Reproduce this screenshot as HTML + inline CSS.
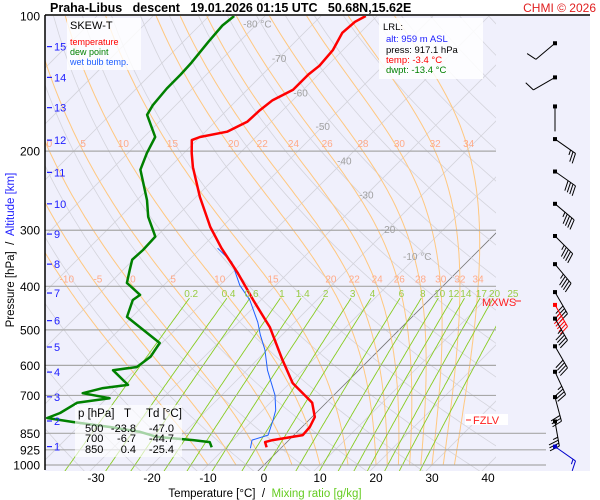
<!DOCTYPE html>
<html><head><meta charset="utf-8"><style>
html,body{margin:0;padding:0;background:#fff;}
svg{display:block;font-family:"Liberation Sans",sans-serif;}
</style></head><body>
<svg id="chart" width="600" height="500" viewBox="0 0 600 500">
<defs>
<clipPath id="plotclip"><rect x="45" y="16" width="451" height="455"/></clipPath>
<clipPath id="lowclip"><rect x="45" y="16" width="505" height="455"/></clipPath>
</defs>
<rect x="45" y="16" width="545" height="455" fill="#f0f0fc"/>
<g id="bg" clip-path="url(#plotclip)"></g>
<g id="plines"></g>
<g id="series" clip-path="url(#lowclip)"></g>
<g id="labels"></g>
<g id="winds"></g>
<line x1="45" y1="15" x2="590" y2="15" stroke="#000" stroke-width="1.5"/>
<line x1="45" y1="15" x2="45" y2="470" stroke="#000" stroke-width="1.5"/>
<text x="50" y="12" font-size="12.5" font-weight="bold" xml:space="preserve">Praha-Libus   descent   19.01.2026 01:15 UTC   50.68N,15.62E</text>
<text x="596" y="12" font-size="12" fill="#e02020" text-anchor="end">CHMI © 2026</text>
<g>
<rect x="67" y="18" width="74" height="52" fill="#fff" opacity="0.8"/>
<text x="70" y="29" font-size="11">SKEW-T</text>
<text x="70" y="45" font-size="9" fill="#ff0000">temperature</text>
<text x="70" y="55" font-size="9" fill="#008000">dew point</text>
<text x="70" y="65" font-size="9" fill="#2060ff">wet bulb temp.</text>
</g>
<g>
<rect x="379" y="18" width="104" height="61" fill="#fff" opacity="0.85"/>
<text x="383" y="30" font-size="9.5">LRL:</text>
<text x="386" y="42" font-size="9.5" fill="#2020ff">alt: 959 m ASL</text>
<text x="386" y="53" font-size="9.5">press: 917.1 hPa</text>
<text x="386" y="63" font-size="9.5" fill="#ff0000">temp: -3.4 °C</text>
<text x="386" y="73" font-size="9.5" fill="#008000">dwpt: -13.4 °C</text>
</g>
<g id="tablegrp">
<rect x="75" y="405" width="107" height="52" fill="#fff" opacity="0.65"/>
<text x="78" y="417" font-size="11.5">p [hPa]</text>
<text x="124" y="417" font-size="11.5">T</text>
<text x="146" y="417" font-size="11.5">Td [°C]</text>
<g font-size="11">
<text x="85" y="432">500</text><text x="136" y="432" text-anchor="end">-23.8</text><text x="174" y="432" text-anchor="end">-47.0</text>
<text x="85" y="442">700</text><text x="136" y="442" text-anchor="end">-6.7</text><text x="174" y="442" text-anchor="end">-44.7</text>
<text x="85" y="453">850</text><text x="136" y="453" text-anchor="end">0.4</text><text x="174" y="453" text-anchor="end">-25.4</text>
</g>
</g>
<g>
<text x="482" y="306" font-size="11" fill="#ff2020">MXWS</text>
<line x1="515" y1="301" x2="521" y2="301" stroke="#ff2020"/>
</g>
<g>
<rect x="465" y="414" width="43" height="11" fill="#fff"/>
<line x1="466" y1="420" x2="471" y2="420" stroke="#ff2020"/>
<text x="473" y="424" font-size="11" fill="#ff2020">FZLV</text>
</g>
<text x="265" y="497" font-size="11.5" text-anchor="middle" xml:space="preserve">Temperature [°C]  /  <tspan fill="#66cc22">Mixing ratio [g/kg]</tspan></text>
<text transform="translate(14,250) rotate(-90)" font-size="11.5" text-anchor="middle" xml:space="preserve">Pressure [hPa]  /  <tspan fill="#2020ff">Altitude [km]</tspan></text>
</svg>
<script>
// ---- data ----
const pressureTicks = [100,200,300,400,500,600,700,850,925,1000];
const tempTicks = [-30,-20,-10,0,10,20,30,40];
const altKm = [1,2,3,4,5,6,7,8,9,10,11,12,13,14,15];
const altPres = [910,798,705,621,546,477,414,357,306,262,223,189,160,137,117];
const isoLabelT = [-80,-70,-60,-50,-40,-30,-20,-10];
const isoLabelP = [104,124,148,176,210,250,298,342];
const thetaW = [-10,-5,0,5,10,15,20,22,24,26,28,30,32,34];
const thetaWLabels200 = [0,5,10,15,20,22,24,26,28,30,32,34];
const thetaWLabels400 = [-10,-5,0,5,10,15,20,22,24,26,28,30,32,34];
const mixRatios = [0.2,0.4,0.6,1,1.4,2,3,4,6,8,10,12,14,17,20,25];
const tempP = [100,103,109,119,129,135,146,154,162,172,181,186,189,202,217,253,295,329,374,429,493,583,657,727,782,823,858,880,889,913];
const tempT = [-62.0,-62.9,-63.2,-61.8,-61.4,-61.8,-61.8,-63.6,-64.1,-64.3,-66.1,-70.0,-70.9,-68.6,-65.9,-59.3,-52.1,-46.3,-38.9,-31.4,-23.6,-15.5,-9.5,-2.5,0.5,1.4,1.6,-2.9,-3.9,-2.7];
const dewP = [100,105,114,127,135,145,158,166,186,202,220,257,280,310,332,349,368,393,418,429,468,493,535,574,605,615,663,674,692,710,727,766,786,802,823,844,866,880,889,913];
const dewT = [-85.5,-85.9,-85.5,-84.8,-84.6,-84.6,-84.1,-83.4,-78.0,-76.6,-74.8,-68.2,-65.0,-60.2,-60.0,-60.2,-58.8,-57.0,-52.5,-52.9,-50.9,-46.8,-40.4,-39.6,-40.2,-43.9,-38.6,-42.5,-45.2,-39.5,-44.5,-45.7,-47.1,-41.8,-34.3,-28.0,-24.1,-17.1,-13.8,-12.5];
const wbP = [329,353,398,429,481,513,554,615,699,755,794,858,880,918];
const wbT = [-47.0,-42.0,-36.4,-32.0,-26.6,-23.9,-20.4,-16.3,-10.5,-7.7,-6.4,-4.6,-6.6,-5.4];
const windP = [115,137,159,188,222,262,309,357,412,440,472,544,620,706,800,910];
const windDir = [230,240,180,125,125,130,135,140,150,150,150,150,155,165,170,125];
const windSpd = [10,10,3,25,40,45,45,45,40,55,45,40,35,30,35,15];

// ---- axes ----
const NS='http://www.w3.org/2000/svg';
const fy = p => 16 + 449*Math.log10(p/100);
const fx = (T,p) => 264 + 5.6*T + (465 - fy(p));
function mk(tag, attrs, parent){const e=document.createElementNS(NS,tag);for(const k in attrs)e.setAttribute(k,attrs[k]);parent.appendChild(e);return e;}
const bg=document.getElementById('bg'), pl=document.getElementById('plines'), se=document.getElementById('series'), lb=document.getElementById('labels'), wg=document.getElementById('winds');
function pathFrom(pts){return pts.map((q,i)=>(i?'L':'M')+q[0].toFixed(1)+' '+q[1].toFixed(1)).join(' ');}

for(let T=-160;T<=50;T+=10){
  const el=mk('line',{x1:fx(T,1050),y1:fy(1050),x2:fx(T,100),y2:fy(100),stroke:T===0?'#777':'#d4d4dc','stroke-width':0.8},bg);
  
  
}
for(let th=230;th<=480;th+=10){
  const pts=[];for(let p=1050;p>=100;p-=10){pts.push([fx(th*Math.pow(p/1000,0.2857)-273.15,p),fy(p)]);}
  const el=mk('path',{d:pathFrom(pts),fill:'none',stroke:'#d4d4dc','stroke-width':0.8},bg);
  
  
}
const es=Tc=>6.112*Math.exp(17.67*Tc/(Tc+243.5));
function moist(tw){
  const pts=[];let T=tw+273.15;const Rd=287,cp=1004,L=2.5e6,eps=0.622;
  let p=1000;const out={};
  const grad=(T,p)=>{const e=es(T-273.15);const r=eps*e/(p-e);return (Rd*T+L*r)/(cp+L*L*r*eps/(Rd*T*T))/p;};
  while(p>=100){pts.push([fx(T-273.15,p),fy(p)]);out[p]=T-273.15;const dp=-5;
    const k1=grad(T,p),k2=grad(T+k1*dp/2,p+dp/2),k3=grad(T+k2*dp/2,p+dp/2),k4=grad(T+k3*dp,p+dp);
    T+=dp*(k1+2*k2+2*k3+k4)/6;p+=dp;}
  return {pts,out};
}
const moistTemps={};
thetaW.forEach(tw=>{
  const m=moist(tw);moistTemps[tw]=m.out;
  const el=mk('path',{d:pathFrom(m.pts),fill:'none',stroke:'#ffc880','stroke-width':1},bg);
  
  
});
function tMix(w,p){const e=w/1000*p/(0.622+w/1000);const l=Math.log(e/6.112);return 243.5*l/(17.67-l);}
mixRatios.forEach(w=>{
  const pts=[];for(let p=1060;p>=425;p-=5)pts.push([fx(tMix(w,p),p),fy(p)]);
  const el=mk('path',{d:pathFrom(pts),fill:'none',stroke:'#88cc22','stroke-width':0.9},bg);
  
  
  const t=mk('text',{x:fx(tMix(w,420),420),y:fy(420)+1,'font-size':10,fill:'#99cc44','text-anchor':'middle'},lb);
  t.textContent=w;
  
  
});
thetaWLabels200.forEach(tw=>{
  const t=mk('text',{x:fx(moistTemps[tw][200],200),y:fy(200)-4,'font-size':10,fill:'#ffaa88','text-anchor':'middle'},lb);
  t.textContent=tw;
  
  
});
thetaWLabels400.forEach(tw=>{
  const t=mk('text',{x:fx(moistTemps[tw][400],400),y:fy(400)-4,'font-size':10,fill:'#ffaa88','text-anchor':'middle'},lb);
  t.textContent=tw;
  
  
});
isoLabelT.forEach((T,i)=>{
  const p=isoLabelP[i];
  const t=mk('text',{x:fx(T,p),y:fy(p)+4,'font-size':10,fill:'#a0a0a0','text-anchor':'middle'},lb);
  t.textContent=T+(i===0||i===isoLabelT.length-1?' °C':'');
  
  
});
pressureTicks.forEach(p=>{
  if(p>100){
    const el=mk('line',{x1:45,y1:fy(p),x2:p>=850?546:496,y2:fy(p),stroke:'#a8a8a8','stroke-width':1.2},pl);
    
    
  }
  const t=mk('text',{x:40,y:fy(p)+4.5,'font-size':12,'text-anchor':'end'},lb);
  t.textContent=p;
  
  
});
altKm.forEach((k,i)=>{
  const y=fy(altPres[i]);
  const tk=mk('line',{x1:47,y1:y,x2:52,y2:y,stroke:'#2020ff','stroke-width':1.2},lb);
  
  
  const t=mk('text',{x:54,y:y+4,'font-size':11,fill:'#2020ff'},lb);
  t.textContent=k;
  
  
});
tempTicks.forEach(T=>{
  const t=mk('text',{x:fx(T,1000),y:482,'font-size':12,'text-anchor':'middle'},lb);
  t.textContent=T;
  
  
});
function series(P,T,color,w,name){
  const el=mk('path',{d:pathFrom(P.map((p,i)=>[fx(T[i],p),fy(p)])),fill:'none',stroke:color,'stroke-width':w,'stroke-linejoin':'round'},se);
  
  
}
series(dewP,dewT,'#008000',2.5,'dew-point-line');
series(wbP,wbT,'#2060ff',1,'wet-bulb-line');
series(tempP,tempT,'#ff0000',2.5,'temperature-line');
const tg=document.getElementById('tablegrp');tg.parentNode.appendChild(tg);
let maxI=0;windSpd.forEach((s,i)=>{if(s>windSpd[maxI])maxI=i;});
windP.forEach((p,i)=>{
  const col=i===maxI?'#ff0000':(i===windP.length-1?'#0000cc':'#000');
  const x0=555,y0=fy(p),d=windDir[i]*Math.PI/180;
  const ux=Math.sin(d),uy=-Math.cos(d),L=25;
  const g=mk('g',{stroke:col,'stroke-width':1,fill:'none'},wg);
  
  
  mk('line',{x1:x0,y1:y0,x2:x0+ux*L,y2:y0+uy*L},g);
  mk('rect',{x:x0-2,y:y0-2,width:4,height:4,fill:col,stroke:'none'},g);
  const px=-uy,py=ux;
  let s=windSpd[i],pos=L;
  const full=Math.floor(s/10),half=(s%10)>=5;
  for(let k=0;k<full;k++){const bx=x0+ux*pos,by=y0+uy*pos;mk('line',{x1:bx,y1:by,x2:bx+px*10+ux*3,y2:by+py*10+uy*3},g);pos-=3;}
  if(half){if(full===0)pos-=3;const bx=x0+ux*pos,by=y0+uy*pos;mk('line',{x1:bx,y1:by,x2:bx+px*5+ux*1.5,y2:by+py*5+uy*1.5},g);}
});
</script>
</body></html>
